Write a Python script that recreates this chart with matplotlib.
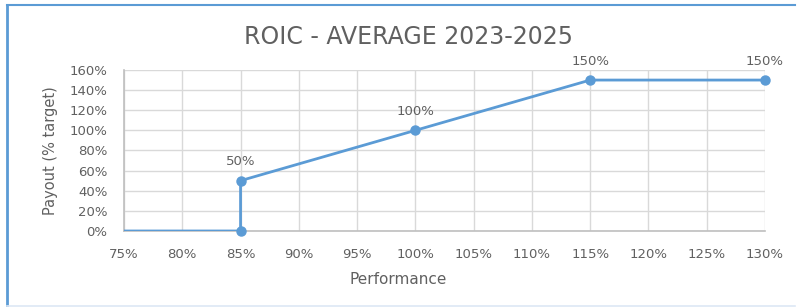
import matplotlib.pyplot as plt
from matplotlib.lines import Line2D
from matplotlib.ticker import PercentFormatter

# data (percent)
performance = [75, 85, 85, 100, 115, 130]
payout = [0, 0, 50, 100, 150, 150]
marker_idx = [1, 2, 3, 4, 5]
label_idx = [2, 3, 4, 5]

x_ticks = list(range(75, 131, 5))
y_ticks = list(range(0, 161, 20))

plt.rcParams['font.family'] = ['DejaVu Sans']
TXT = '#606060'
LINE = '#5b9bd5'

fig = plt.figure(figsize=(7.97, 3.07), dpi=100)
ax = fig.add_axes([0.1556, 0.2476, 0.8042, 0.5244])

ax.plot(performance, payout, color=LINE, lw=2, zorder=3)
ax.plot([performance[i] for i in marker_idx], [payout[i] for i in marker_idx],
        'o', color=LINE, ms=6.5, zorder=4, clip_on=False)
for i in label_idx:
    ax.annotate(f"{payout[i]}%", (performance[i], payout[i]), xytext=(0, 9),
                textcoords='offset points', ha='center', va='bottom',
                fontsize=9.5, color=TXT)

ax.set_xlim(75, 130)
ax.set_ylim(0, 160)
ax.set_xticks(x_ticks)
ax.set_yticks(y_ticks)
ax.xaxis.set_major_formatter(PercentFormatter(decimals=0))
ax.yaxis.set_major_formatter(PercentFormatter(decimals=0))
ax.tick_params(length=0, labelsize=9.5, labelcolor=TXT)
ax.tick_params(axis='x', pad=12)
ax.tick_params(axis='y', pad=12)
ax.grid(True, color='#d9d9d9', lw=1)
ax.set_axisbelow(True)
for s in ['top', 'right']:
    ax.spines[s].set_visible(False)
for s in ['left', 'bottom']:
    ax.spines[s].set_color('#bfbfbf')
    ax.spines[s].set_linewidth(1.2)

ax.set_ylabel('Payout (% target)', fontsize=10.5, color=TXT, labelpad=8)
fig.text(0.5, 0.088, 'Performance', ha='center', va='center', fontsize=11, color=TXT)
fig.text(0.513, 0.88, 'ROIC - AVERAGE 2023-2025', ha='center', va='center',
         fontsize=17, color=TXT)

# chart frame
fig.add_artist(Line2D([0.009, 0.998], [0.984, 0.984], color=LINE, lw=1.5, transform=fig.transFigure))
fig.add_artist(Line2D([0.009, 0.009], [0.984, 0.0], color=LINE, lw=2, transform=fig.transFigure))
fig.add_artist(Line2D([0.009, 0.998], [0.004, 0.004], color='#dde8f5', lw=1.2, transform=fig.transFigure))

fig.savefig('out.png', dpi=100)
